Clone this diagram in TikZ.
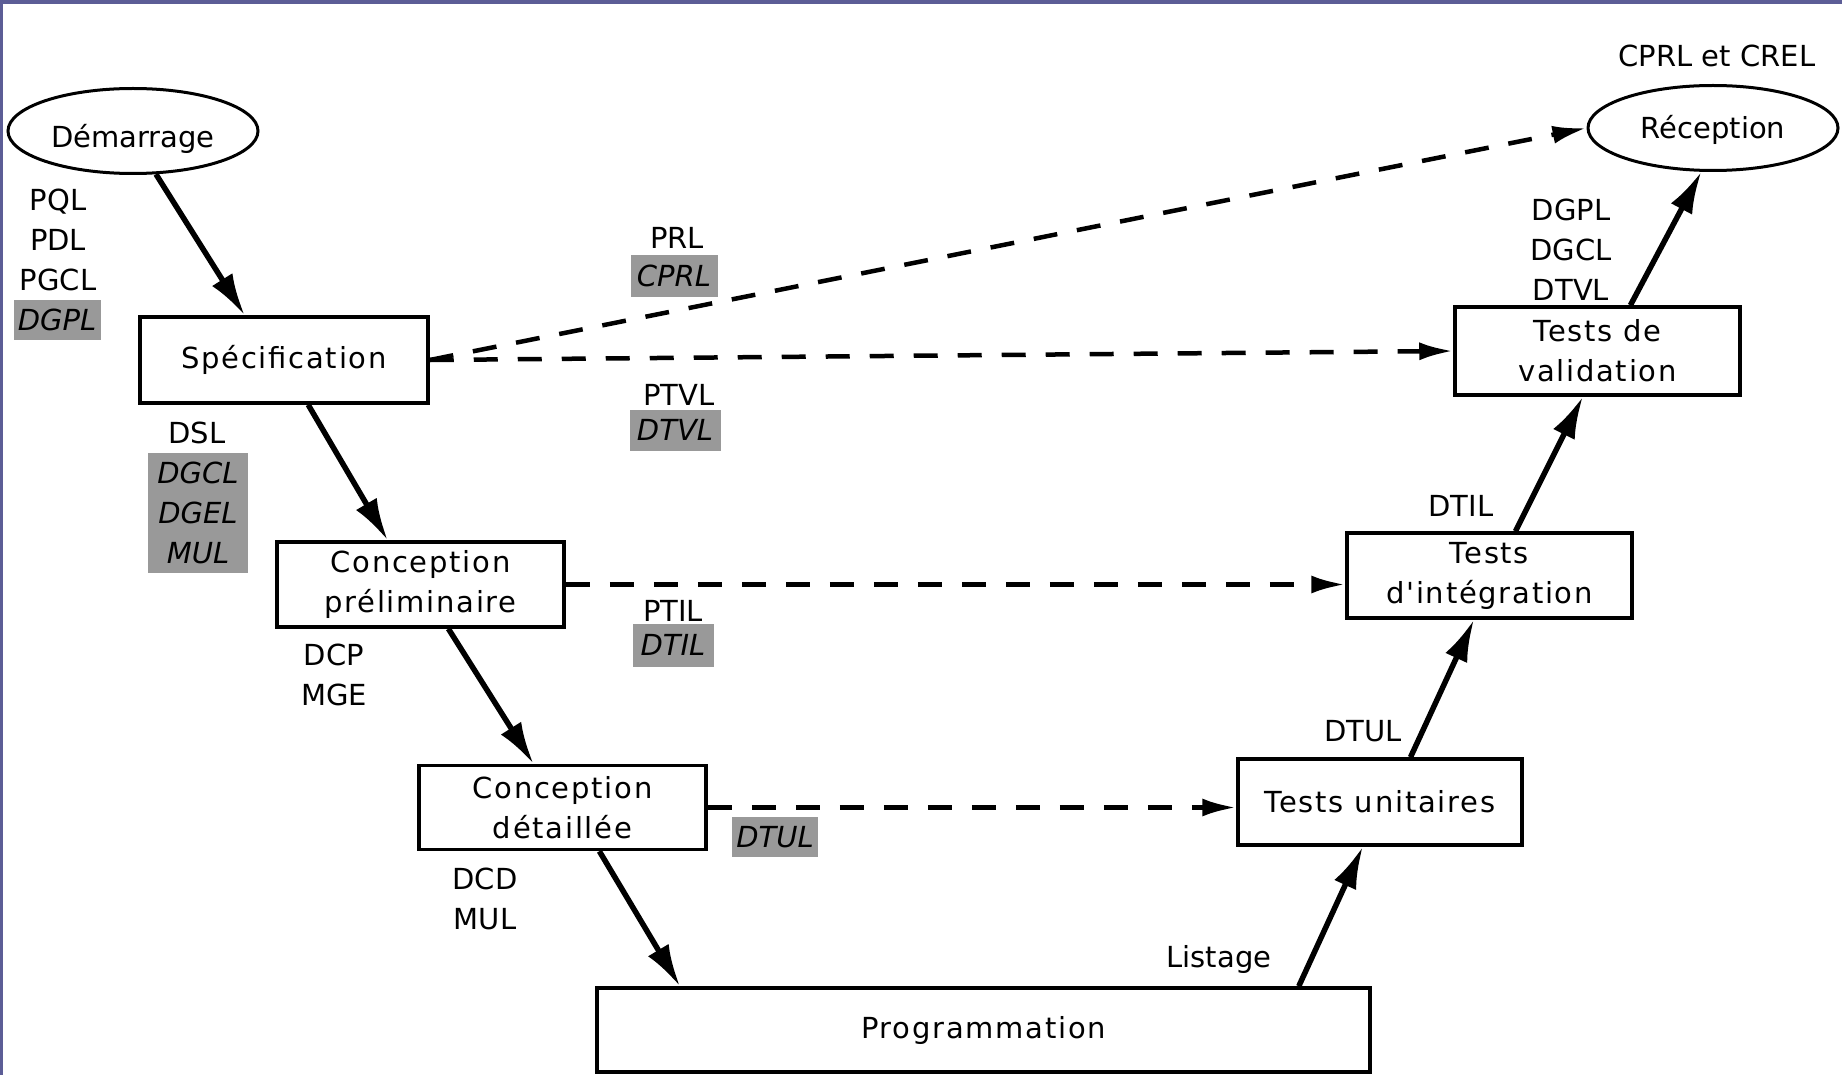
\documentclass[tikz,border=0pt]{standalone}
\usepackage{fontspec}
\setmainfont{DejaVu Sans}
\newfontfamily\widefont[LetterSpace=6]{DejaVu Sans}
\usetikzlibrary{shapes.geometric,arrows.meta,calc}
\definecolor{frame}{RGB}{92,93,150}
\newcommand{\bigtxt}{\fontsize{29}{40}\selectfont}
\tikzset{
  stage/.style={draw, line width=3.5pt, align=center, font=\widefont\bigtxt, inner sep=0pt},
  oval/.style={ellipse, draw, line width=3pt, minimum width=250pt, minimum height=85pt, font=\bigtxt, inner sep=0pt},
  lbl/.style={align=center, font=\bigtxt, inner sep=0pt},
  shd/.style={fill=black!40, align=center, font=\bigtxt\itshape, inner sep=0pt},
  arr/.style={line width=5.5pt, -{Latex[length=42pt,width=24pt]}},
  darr/.style={line width=4.5pt, dash pattern=on 24pt off 20pt, -{Latex[length=34pt,width=18pt]}}
}
\begin{document}
\begin{tikzpicture}[x=1pt,y=-1pt]
\useasboundingbox (0,0) rectangle (1842,1075);
\fill[white] (0,0) rectangle (1842,1075);
\fill[frame] (0,0) rectangle (1842,4);
\fill[frame] (0,0) rectangle (3,1075);

% stages
\node[oval] (dem) at (133,131) {\raisebox{-17pt}[0pt][0pt]{Démarrage}};
\node[oval] (rec) at (1713,128) {\raisebox{-11pt}[0pt][0pt]{Réception}};
\node[stage, minimum width=288pt, minimum height=86pt] (spec) at (284,360) {Spécification};
\node[stage, minimum width=287pt, minimum height=85pt] (cp) at (420.5,584.5) {Conception\\préliminaire};
\node[stage, minimum width=287pt, minimum height=84pt] (cd) at (562.5,807.5) {Conception\\détaillée};
\node[stage, minimum width=773pt, minimum height=84pt] (prog) at (983.5,1030) {Programmation};
\node[stage, minimum width=284pt, minimum height=86pt] (tu) at (1380,802) {Tests unitaires};
\node[stage, minimum width=285pt, minimum height=85pt] (ti) at (1489.5,575.5) {Tests\\d'intégration};
\node[stage, minimum width=285pt, minimum height=88pt] (tv) at (1597.5,351) {Tests de\\validation};

% labels
\node[lbl] (l1) at (58,240) {PQL\\PDL\\PGCL};
\node[shd, minimum width=87pt, minimum height=40pt] (s1) at (57,320) {DGPL};
\node[lbl] (l2) at (197,433) {DSL};
\node[shd, minimum width=100pt, minimum height=120pt] (s2) at (198,513) {DGCL\\DGEL\\MUL};
\node[lbl] (l3) at (334,675) {DCP\\MGE};
\node[lbl] (l4) at (485,899) {DCD\\MUL};
\node[lbl] (l5) at (677,238) {PRL};
\node[shd, minimum width=87pt, minimum height=42pt] (s5) at (674,276) {CPRL};
\node[lbl] (l6) at (679,395) {PTVL};
\node[shd, minimum width=91pt, minimum height=41pt] (s6) at (675,430) {DTVL};
\node[lbl] (l7) at (673,611) {PTIL};
\node[shd, minimum width=81pt, minimum height=43pt] (s7) at (673,645) {DTIL};
\node[shd, minimum width=86pt, minimum height=40pt] (s8) at (775,837) {DTUL};
\node[lbl] (l8) at (1219,959) {Listage};
\node[lbl] (l9) at (1363,731) {DTUL};
\node[lbl] (l10) at (1461,506) {DTIL};
\node[lbl] (l11) at (1571,250) {DGPL\\DGCL\\DTVL};
\node[lbl] (l12) at (1717,56) {CPRL et CREL};

% solid arrows
\draw[arr] (dem.-62) -- ($(spec.north west)!0.365!(spec.north east)$);
\draw[arr] ($(spec.south west)!0.583!(spec.south east)$) -- ($(cp.north west)!0.387!(cp.north east)$);
\draw[arr] ($(cp.south west)!0.596!(cp.south east)$) -- ($(cd.north west)!0.40!(cd.north east)$);
\draw[arr] ($(cd.south west)!0.627!(cd.south east)$) -- ($(prog.north west)!0.109!(prog.north east)$);
\draw[arr] ($(prog.north west)!0.906!(prog.north east)$) -- ($(tu.south west)!0.44!(tu.south east)$);
\draw[arr] ($(tu.north west)!0.606!(tu.north east)$) -- ($(ti.south west)!0.446!(ti.south east)$);
\draw[arr] ($(ti.north west)!0.59!(ti.north east)$) -- ($(tv.south west)!0.449!(tv.south east)$);
\draw[arr] ($(tv.north west)!0.614!(tv.north east)$) -- (rec.-105);

% dashed arrows
\draw[darr] (spec.east) -- (rec.west);
\draw[darr] (spec.east) -- (tv.west);
\draw[darr] (cp.east) -- (cp.east -| ti.west);
\draw[darr] (cd.east) -- (cd.east -| tu.west);
\end{tikzpicture}
\end{document}
